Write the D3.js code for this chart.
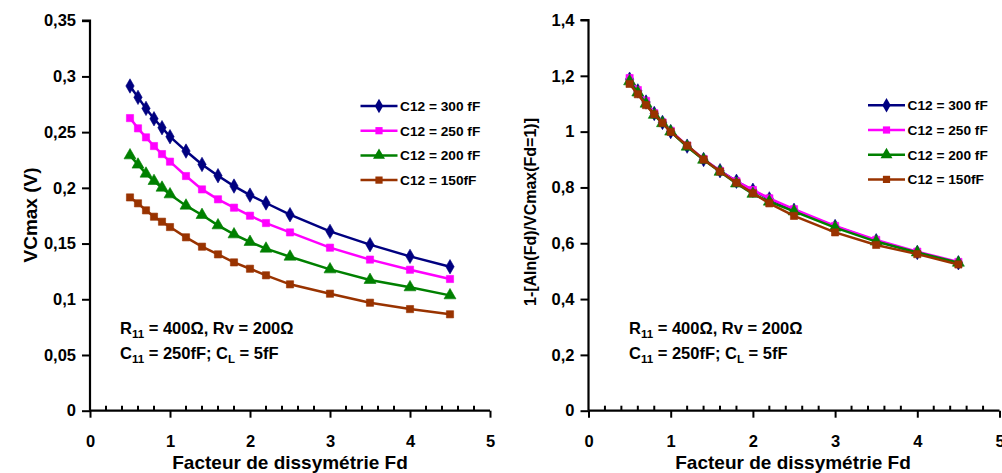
<!DOCTYPE html>
<html>
<head>
<meta charset="utf-8">
<script src="https://cdn.jsdelivr.net/npm/d3@7"></script>
<style>
  html, body { margin: 0; padding: 0; background: #fff; }
  svg { display: block; }
  text { font-family: "Liberation Sans", Arial, sans-serif; font-weight: bold; fill: #000; }
</style>
</head>
<body>
<svg id="chart" width="1002" height="473"></svg>
<script>
// ---- data ----
const fd = [0.5, 0.6, 0.7, 0.8, 0.9, 1.0, 1.2, 1.4, 1.6, 1.8, 2.0, 2.2, 2.5, 3.0, 3.5, 4.0, 4.5];
const seriesNames = ["C12 = 300 fF", "C12 = 250 fF", "C12 = 200 fF", "C12 = 150fF"];
const seriesColors = ["#000080", "#FF00FF", "#008000", "#993300"];
const seriesMarkers = ["diamond", "square", "triangle", "square"];

// Left chart: VCmax (V)
const vc300 = [0.2914, 0.2812, 0.2713, 0.2620, 0.2540, 0.2459, 0.2330, 0.2210, 0.2109, 0.2016, 0.1935, 0.1864, 0.1759, 0.1609, 0.1490, 0.1385, 0.1292];
const vc250 = [0.2626, 0.2534, 0.2453, 0.2375, 0.2303, 0.2235, 0.2106, 0.1986, 0.1897, 0.1822, 0.1750, 0.1684, 0.1600, 0.1463, 0.1356, 0.1265, 0.1182];
const vc200 = [0.2291, 0.2208, 0.2127, 0.2061, 0.2001, 0.1941, 0.1840, 0.1756, 0.1663, 0.1582, 0.1514, 0.1454, 0.1382, 0.1268, 0.1173, 0.1107, 0.1035];
const vc150 = [0.1914, 0.1861, 0.1798, 0.1741, 0.1696, 0.1648, 0.1556, 0.1472, 0.1403, 0.1331, 0.1274, 0.1215, 0.1134, 0.1050, 0.0969, 0.0912, 0.0865];

// Right chart: normalised
const nr300 = [1.188, 1.146, 1.106, 1.065, 1.033, 1.000, 0.948, 0.900, 0.860, 0.822, 0.790, 0.759, 0.718, 0.660, 0.609, 0.567, 0.530];
const nr250 = [1.192, 1.149, 1.110, 1.066, 1.033, 1.003, 0.950, 0.902, 0.859, 0.822, 0.791, 0.761, 0.722, 0.662, 0.612, 0.570, 0.533];
const nr200 = [1.180, 1.140, 1.100, 1.060, 1.030, 1.000, 0.946, 0.899, 0.856, 0.814, 0.777, 0.749, 0.714, 0.656, 0.606, 0.567, 0.530];
const nr150 = [1.171, 1.134, 1.095, 1.062, 1.031, 0.999, 0.950, 0.900, 0.857, 0.817, 0.779, 0.743, 0.698, 0.639, 0.594, 0.561, 0.524];

const leftTicks = [0, 0.05, 0.1, 0.15, 0.2, 0.25, 0.3, 0.35];
const rightTicks = [0, 0.2, 0.4, 0.6, 0.8, 1, 1.2, 1.4];
const xTicks = [0, 1, 2, 3, 4, 5];
const xMinorTicks = d3.range(0, 5.001, 0.2);

const annot1 = ["R", "11", " = 400Ω, Rv = 200Ω"];
const annot2 = ["C", "11", " = 250fF; C", "L", " = 5fF"];

const svg = d3.select("#chart");
const fmt = v => String(v).replace(".", ",");

function symFor(si) {
  const m = seriesMarkers[si];
  return m === "diamond" ? [d3.symbolDiamond, 60] : m === "triangle" ? [d3.symbolTriangle, 62] : [d3.symbolSquare, 52];
}

function drawChart(cfg) {
  const g = svg.append("g");
  const x = d3.scaleLinear().domain([0, 5]).range([cfg.x0, cfg.x1]);
  const y = d3.scaleLinear().domain([0, cfg.ymax]).range([cfg.y0, cfg.y1]);

  // y axis
  const yAxis = d3.axisLeft(y).tickValues(cfg.yTicks).tickSize(8).tickPadding(6).tickFormat(fmt);
  const ya = g.append("g").attr("transform", `translate(${cfg.x0},0)`).call(yAxis);
  ya.select(".domain").attr("stroke", "#000").attr("stroke-width", 2.2).attr("d", `M-8,${cfg.y1}H0V${cfg.y0}`);
  ya.selectAll(".tick line").attr("stroke", "#000").attr("stroke-width", 2);
  ya.selectAll(".tick text").style("font-size", "16.5px").style("font-family", "Liberation Sans, Arial, sans-serif").style("font-weight", "bold").attr("fill", "#000");

  // x minor ticks (inside)
  g.append("g").selectAll("line").data(xMinorTicks.filter(v => Math.abs(v - Math.round(v)) > 1e-6))
    .join("line")
    .attr("x1", d => x(d)).attr("x2", d => x(d))
    .attr("y1", cfg.y0).attr("y2", cfg.y0 - 5)
    .attr("stroke", "#000").attr("stroke-width", 2);

  // x axis
  const xAxis = d3.axisBottom(x).tickValues(xTicks).tickSize(7).tickPadding(18).tickFormat(fmt);
  const xa = g.append("g").attr("transform", `translate(0,${cfg.y0})`).call(xAxis);
  xa.select(".domain").attr("stroke", "#000").attr("stroke-width", 2.2).attr("d", `M${cfg.x0},0H${cfg.x1}`);
  xa.selectAll(".tick line").attr("stroke", "#000").attr("stroke-width", 2);
  xa.selectAll(".tick text").style("font-size", "16.5px").style("font-family", "Liberation Sans, Arial, sans-serif").style("font-weight", "bold").attr("fill", "#000");

  // series
  const line = d3.line().x((d, i) => x(fd[i])).y(d => y(d));
  cfg.series.forEach((vals, si) => {
    const col = seriesColors[si];
    g.append("path").datum(vals).attr("d", line)
      .attr("fill", "none").attr("stroke", col).attr("stroke-width", 2.5);
    const [sym, size] = symFor(si);
    g.append("g").selectAll("path").data(vals).join("path")
      .attr("d", d3.symbol().type(sym).size(size))
      .attr("transform", (d, i) => `translate(${x(fd[i])},${y(d)})`)
      .attr("fill", col).attr("stroke", col).attr("stroke-width", 0.6);
  });

  // legend
  seriesNames.forEach((name, si) => {
    const ly = cfg.legY + si * 24.7;
    const col = seriesColors[si];
    g.append("line").attr("x1", cfg.legX).attr("x2", cfg.legX + 37).attr("y1", ly).attr("y2", ly)
      .attr("stroke", col).attr("stroke-width", 2.5);
    const [sym, size] = symFor(si);
    g.append("path").attr("d", d3.symbol().type(sym).size(size))
      .attr("transform", `translate(${cfg.legX + 18.5},${ly})`).attr("fill", col);
    g.append("text").attr("x", cfg.legX + 39.5).attr("y", ly + 5).style("font-size", "13.7px").text(name);
  });

  // annotation
  const t1 = g.append("text").attr("x", cfg.annX).attr("y", cfg.annY).style("font-size", "16.5px");
  t1.append("tspan").text(annot1[0]);
  t1.append("tspan").attr("dy", 4).style("font-size", "11.5px").text(annot1[1]);
  t1.append("tspan").attr("dy", -4).text(annot1[2]);
  const t2 = g.append("text").attr("x", cfg.annX).attr("y", cfg.annY + 24.5).style("font-size", "16.5px");
  t2.append("tspan").text(annot2[0]);
  t2.append("tspan").attr("dy", 4).style("font-size", "11.5px").text(annot2[1]);
  t2.append("tspan").attr("dy", -4).text(annot2[2]);
  t2.append("tspan").attr("dy", 4).style("font-size", "11.5px").text(annot2[3]);
  t2.append("tspan").attr("dy", -4).text(annot2[4]);

  // axis titles
  g.append("text").attr("x", cfg.xTitleX).attr("y", 469).attr("text-anchor", "middle")
    .style("font-size", "19px").text("Facteur de dissymétrie Fd");
  g.append("text").attr("transform", `translate(${cfg.yTitleX},${cfg.yTitleY}) rotate(-90)`)
    .attr("text-anchor", "middle").style("font-size", cfg.yTitleSize).text(cfg.yTitle);
}

drawChart({
  x0: 90, x1: 490, y0: 410.7, y1: 20.7, ymax: 0.35, yTicks: leftTicks,
  series: [vc300, vc250, vc200, vc150],
  legX: 360.5, legY: 106, annX: 120, annY: 334,
  xTitleX: 290, yTitleX: 37, yTitleY: 215, yTitle: "VCmax (V)", yTitleSize: "19px"
});
drawChart({
  x0: 588.5, x1: 999.5, y0: 410.7, y1: 20, ymax: 1.4, yTicks: rightTicks,
  series: [nr300, nr250, nr200, nr150],
  legX: 868, legY: 105.3, annX: 629, annY: 334,
  xTitleX: 793, yTitleX: 536, yTitleY: 212, yTitle: "1-[AIn(Fd)/VCmax(Fd=1)]", yTitleSize: "16px"
});
</script>
</body>
</html>
